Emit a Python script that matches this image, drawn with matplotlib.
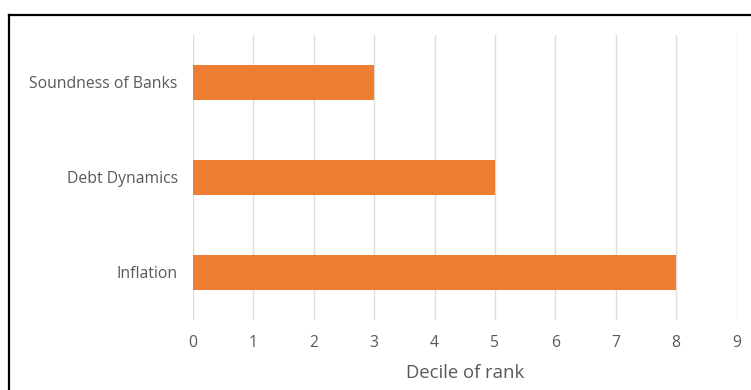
import matplotlib.pyplot as plt
from matplotlib.lines import Line2D

# decile ranking per indicator
indicators = ["Inflation", "Debt Dynamics", "Soundness of Banks"]
deciles = [8, 5, 3]
ticks = list(range(10))

plt.rcParams['font.family'] = ['Open Sans', 'DejaVu Sans']

fig = plt.figure(figsize=(7.51, 3.90), dpi=100)
ax = fig.add_axes([0.257, 0.1795, 0.7237, 0.7308])

ax.barh(indicators, deciles, height=0.36, color="#ED7D31", zorder=3)
ax.set_xlim(0, 9)
ax.set_ylim(-0.5, 2.5)
ax.set_xticks(ticks)
ax.grid(axis="x", color="#dddddd", linewidth=1, zorder=0)
ax.tick_params(length=0, colors="#595959", labelsize=11.3)
ax.tick_params(axis="x", pad=11)
ax.tick_params(axis="y", pad=11)
for s in ax.spines.values():
    s.set_visible(False)
ax.set_xlabel("Decile of rank", color="#595959", fontsize=13.3, labelpad=9)

# frame around the chart area
fig.add_artist(Line2D([0.0126, 1.0], [0.9628, 0.9628], color="black", linewidth=1.6, transform=fig.transFigure))
fig.add_artist(Line2D([0.0126, 0.0126], [0.0, 0.9628], color="black", linewidth=1.6, transform=fig.transFigure))

fig.savefig("out.png", dpi=100)
